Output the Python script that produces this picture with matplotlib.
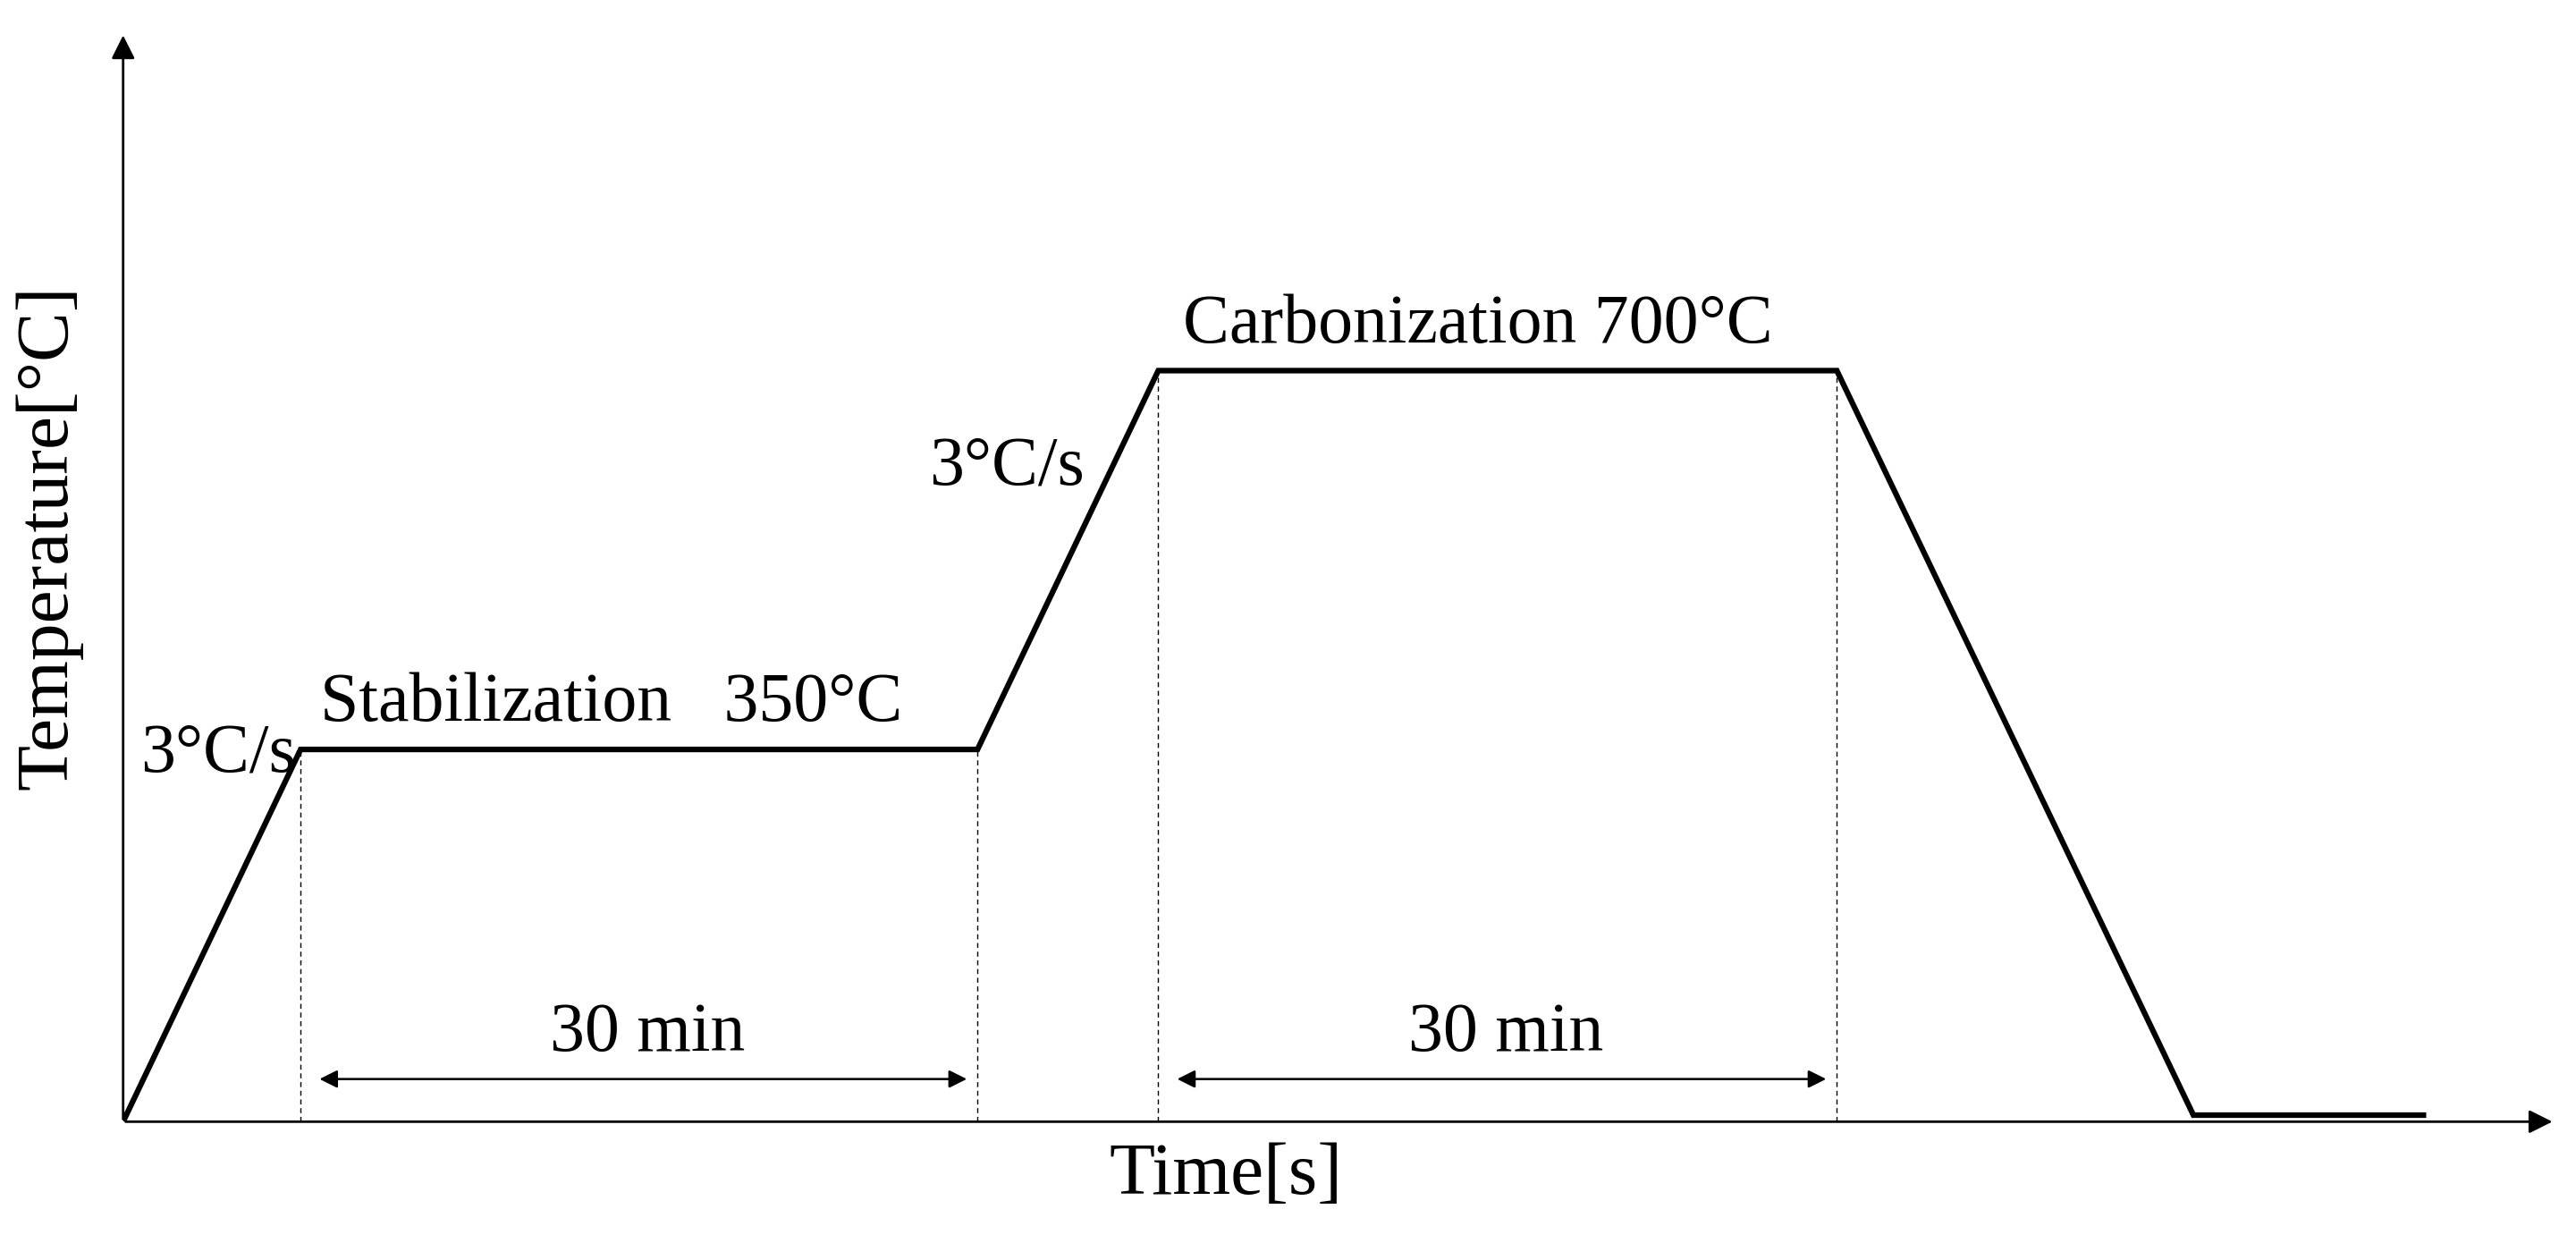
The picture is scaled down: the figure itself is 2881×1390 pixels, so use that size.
import matplotlib.pyplot as plt

# profile (arbitrary time / temperature units)
time = [0, 108, 520, 630, 1043, 1260, 1400]
temp = [0, 227, 227, 458, 458, 4, 4]
hold_spans = [(108, 520), (630, 1043)]
hold_labels = ["30 min", "30 min"]

plt.rcParams['font.family'] = ['Liberation Serif', 'DejaVu Serif']

fig = plt.figure(figsize=(28.81, 13.90), dpi=100)
ax = fig.add_axes([0.0478, 0.0976, 0.944, 0.876])
ax.set_xlim(0, 1480)
ax.set_ylim(0, 664)
ax.axis('off')

# axes with arrows
ax.annotate('', xy=(1480, 0), xytext=(0, 0),
            arrowprops=dict(arrowstyle='-|>', lw=2, color='black', mutation_scale=40))
ax.annotate('', xy=(0, 664), xytext=(0, 0),
            arrowprops=dict(arrowstyle='-|>', lw=2, color='black', mutation_scale=40))

ax.plot(time, temp, color='black', lw=4.5, solid_joinstyle='miter')

# dashed guides
for x, y in zip(time[1:5], temp[1:5]):
    ax.plot([x, x], [0, y], color='black', lw=1, ls=(0, (4, 3)))

for (a, b), lab in zip(hold_spans, hold_labels):
    ax.annotate('', xy=(a + 10, 26), xytext=(b - 5, 26),
                arrowprops=dict(arrowstyle='<|-|>', lw=1.8, color='black', mutation_scale=30))
    ax.text((a + b) / 2 + 5, 34, lab, ha='center', va='bottom', fontsize=56)

ax.text(120, 235, 'Stabilization   350°C', ha='left', va='bottom', fontsize=56)
ax.text(645, 466, 'Carbonization 700°C', ha='left', va='bottom', fontsize=56)
ax.text(105, 224, '3°C/s', ha='right', va='center', fontsize=56)
ax.text(585, 399, '3°C/s', ha='right', va='center', fontsize=56)

fig.text(0.476, 0.054, 'Time[s]', ha='center', va='center', fontsize=60)
fig.text(0.019, 0.568, 'Temperature[°C]', ha='center', va='center', fontsize=60, rotation=90)

fig.savefig('out.png', dpi=100, facecolor='white')
